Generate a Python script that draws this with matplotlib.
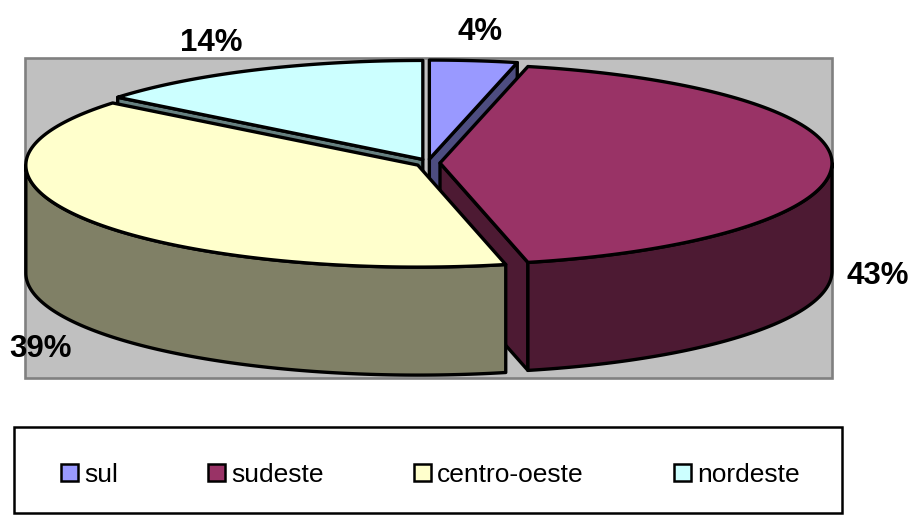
import numpy as np
import matplotlib
matplotlib.use("Agg")
import matplotlib.pyplot as plt
from matplotlib.patches import Polygon, Rectangle

plt.rcParams['font.family'] = ['Liberation Sans', 'DejaVu Sans']

names = ['sul', 'sudeste', 'centro-oeste', 'nordeste']
values = [3.6, 42.8, 39.4, 14.2]
top_colors = ['#9999FF', '#993366', '#FFFFCC', '#CCFFFF']
side_colors = ['#4D4D80', '#4D1A33', '#808066', '#668080']

# geometry of the fake 3d pie, in pixels
cx, cy = 428, 163
rx = 392
ry_back, ry_front = 99, 102  # back half looks a bit flatter in the original
depth = 108
explode = 12
lw = 2.4


def ring(a, b, x0, y0, n=120):
    t = np.radians(np.linspace(a, b, n))
    c = np.cos(t)
    return np.column_stack([x0 + rx * np.sin(t), y0 - np.where(c > 0, ry_back, ry_front) * c])


fig = plt.figure(figsize=(9.13, 5.15), dpi=100)
ax = fig.add_axes([0, 0, 1, 1])
ax.set_xlim(0, 913)
ax.set_ylim(515, 0)
ax.axis('off')

# plot area
ax.add_patch(Rectangle((25, 58), 807, 320, fc='#C0C0C0', ec='#808080', lw=1.9))

edges = np.cumsum([0] + values) * 3.6
slices = []
for i in range(len(values)):
    a, b = edges[i], edges[i + 1]
    mid = np.radians((a + b) / 2)
    x0 = cx + explode * np.sin(mid)
    y0 = cy - explode * 0.33 * np.cos(mid)
    slices.append((i, a, b, x0, y0))

# back slices first
for i, a, b, x0, y0 in [slices[k] for k in (0, 3, 1, 2)]:
    apex = np.array([x0, y0])
    down = np.array([0, depth])
    for ang, visible in ((a, np.sin(np.radians(a)) < -1e-6),
                         (b, np.sin(np.radians(b)) > 1e-6)):
        if visible:
            p = ring(ang, ang, x0, y0, 1)[0]
            ax.add_patch(Polygon([apex, p, p + down, apex + down],
                                 fc=side_colors[i], ec='k', lw=lw, joinstyle='round'))
    # outer wall, only the part facing us
    lo, hi = max(a, 90), min(b, 270)
    if lo < hi:
        arc = ring(lo, hi, x0, y0)
        ax.add_patch(Polygon(np.vstack([arc, (arc + down)[::-1]]),
                             fc=side_colors[i], ec='k', lw=lw, joinstyle='round'))
    ax.add_patch(Polygon(np.vstack([apex, ring(a, b, x0, y0)]),
                         fc=top_colors[i], ec='k', lw=lw, joinstyle='round'))

# data labels
label_pos = [(480, 32), (878, 276), (41, 349), (211, 43)]
for v, (x, y) in zip(values, label_pos):
    ax.text(x, y, f'{v:.0f}%', ha='center', va='center', fontsize=22.5, fontweight='bold')

# legend
ax.add_patch(Rectangle((14, 427), 828, 86, fc='white', ec='k', lw=1.8))
legend_x = [61, 208, 414, 674]
for name, c, x in zip(names, top_colors, legend_x):
    ax.add_patch(Rectangle((x, 464), 17, 17, fc=c, ec='k', lw=1.8))
    ax.text(x + 23, 474.5, name, ha='left', va='center', fontsize=19)

fig.savefig('out.png', dpi=100)
